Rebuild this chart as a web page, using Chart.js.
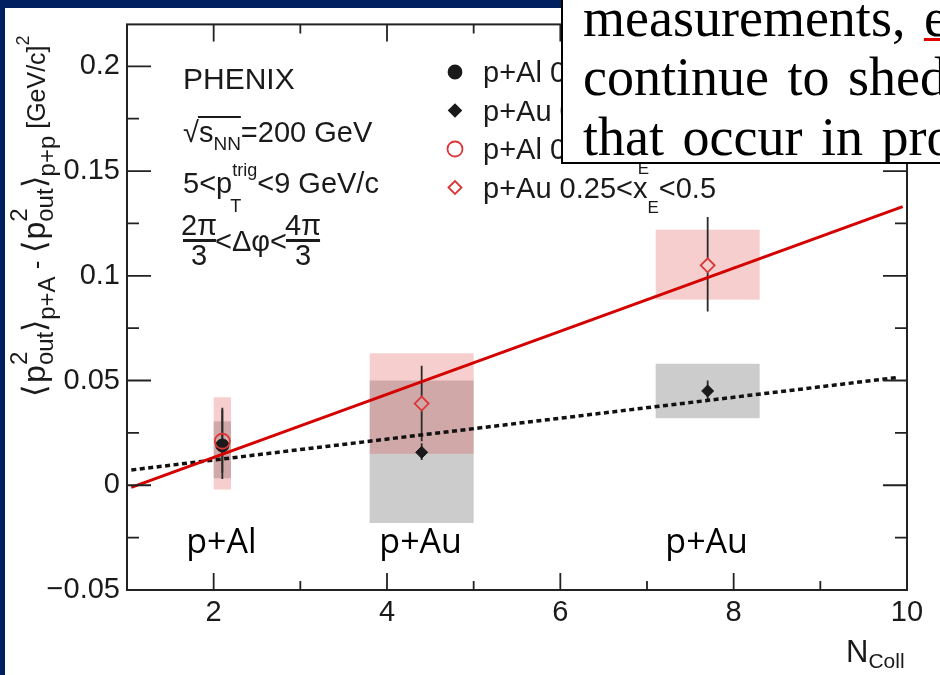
<!DOCTYPE html>
<html>
<head>
<meta charset="utf-8">
<script src="https://cdn.jsdelivr.net/npm/chart.js@4.4.0/dist/chart.umd.min.js"></script>
<style>
  html, body { margin: 0; padding: 0; }
  body { width: 940px; height: 675px; background: #002060; position: relative; overflow: hidden; }
  #paper { position: absolute; left: 5px; top: 8px; right: 0; bottom: 0; background: #fff; }
  #plot { position: absolute; left: 0; top: 0; }
  #note { position: absolute; left: 561px; top: -10px; width: 400px; height: 170px; border: 2px solid #000;
          background: #fff; overflow: hidden; font-family: "Liberation Serif", "Times New Roman", serif;
          font-size: 54px; word-spacing: 5px; color: #000; }
  #note div { position: absolute; left: 20px; line-height: 54px; white-space: nowrap; }
  .spell { text-decoration: underline; text-decoration-color: #e00000; text-decoration-thickness: 3px; }
</style>
</head>
<body>
<div id="paper"></div>
<canvas id="plot" width="940" height="675"></canvas>
<div id="note">
  <div style="top:-1px">measurements, <span class="spell">e.g.</span></div>
  <div style="top:58px">continue to shed light</div>
  <div style="top:118px">that occur in proton</div>
</div>
<script>
const FONT = '"Liberation Sans", Arial, Helvetica, sans-serif';

// axes
const xMajorTicks = [2, 4, 6, 8, 10];
const xMinorTicks = [3, 5, 7, 9];
const xTickLabels = ['2', '4', '6', '8', '10'];
const yMajorTicks = [-0.05, 0, 0.05, 0.1, 0.15, 0.2];
const yMinorTicks = [-0.025, 0.025, 0.075, 0.125, 0.175];
const yTickLabels = ['\u22120.05', '0', '0.05', '0.1', '0.15', '0.2'];

// collision systems (N_coll)
const systems = ['p+Al', 'p+Au', 'p+Au'];
const systemX = [2.1, 4.4, 7.7];
const alX = [2.1];
const auX = [4.4, 7.7];

// black: 0.5<xE<0.8, red: 0.25<xE<0.5
const alBlackY = [0.019];
const alBlackStat = [[0.003, 0.037]];
const alBlackSys = [[0.0033, 0.0305]];
const auBlackY = [0.0157, 0.045];
const auBlackStat = [[0.012, 0.020], [0.0405, 0.050]];
const auBlackSys = [[-0.018, 0.050], [0.032, 0.058]];

const alRedY = [0.021];
const alRedStat = [[0.006, 0.036]];
const alRedSys = [[-0.002, 0.042]];
const auRedY = [0.039, 0.105];
const auRedStat = [[0.021, 0.057], [0.083, 0.128]];
const auRedSys = [[0.015, 0.063], [0.0886, 0.122]];

// linear fits
const redFitX = [1.05, 9.95];
const redFitY = [-0.001, 0.133];
const blackFitX = [1.05, 9.9];
const blackFitY = [0.0073, 0.0515];

const legendLabels = ['p+Al 0.5<x_E<0.8', 'p+Au 0.5<x_E<0.8', 'p+Al 0.25<x_E<0.5', 'p+Au 0.25<x_E<0.5'];

const RED = '#d40000';
const MRED = '#dd3535';
const INK = '#1a1a1a';

const pts = (xs, ys) => xs.map((v, i) => ({ x: v, y: ys[i] }));

function text(ctx, s, x, y, size, align) {
    ctx.font = size + 'px ' + FONT;
    ctx.textAlign = align || 'left';
    ctx.fillText(s, x, y);
    return ctx.measureText(s).width;
}

function boxes(ctx, x, y, xs, sys, half, color) {
    ctx.fillStyle = color;
    xs.forEach((v, i) => {
        const l = x.getPixelForValue(v - half), r = x.getPixelForValue(v + half);
        const t = y.getPixelForValue(sys[i][1]), b = y.getPixelForValue(sys[i][0]);
        ctx.fillRect(l, t, r - l, b - t);
    });
}

function errBars(ctx, x, y, xs, ys, stat, gap) {
    ctx.strokeStyle = '#2a2a2a';
    ctx.lineWidth = 1.8;
    xs.forEach((v, i) => {
        const px = x.getPixelForValue(v), py = y.getPixelForValue(ys[i]);
        const t = y.getPixelForValue(stat[i][1]), b = y.getPixelForValue(stat[i][0]);
        ctx.beginPath();
        if (t < py - gap) { ctx.moveTo(px, t); ctx.lineTo(px, py - gap); }
        if (b > py + gap) { ctx.moveTo(px, py + gap); ctx.lineTo(px, b); }
        ctx.stroke();
    });
}

// rotated y title; each piece: [text, size, baseline offset, advance?]
function yTitle(ctx) {
    const B = 32, S = 24, U = 25;
    const parts = [
        ['\u27E8', B, 0], [' ', 6, 0], ['p', B, 0], ['2', S, -18, false], ['out', S, 8], ['\u27E9', B, 0], ['p+A', S, 10],
        [' - ', 26, 0],
        ['\u27E8', B, 0], [' ', 6, 0], ['p', B, 0], ['2', S, -18, false], ['out', S, 8], ['\u27E9', B, 0], ['p+p', S, 10],
        [' [GeV/c]', U, 0], ['2', 18, -16]
    ];
    const adv = p => {
        ctx.font = p[1] + 'px ' + FONT;
        return p[3] === false ? 0 : ctx.measureText(p[0]).width;
    };
    const total = parts.reduce((a, p) => a + adv(p), 0);
    ctx.save();
    ctx.translate(45, 216 + total / 2);
    ctx.rotate(-Math.PI / 2);
    ctx.textAlign = 'left';
    ctx.textBaseline = 'alphabetic';
    let pos = 0;
    parts.forEach(p => {
        const w = adv(p);
        ctx.fillText(p[0], pos, p[2]);
        pos += w;
    });
    ctx.restore();
}

function annotations(ctx) {
    ctx.fillStyle = INK;
    ctx.textBaseline = 'alphabetic';
    text(ctx, 'PHENIX', 183, 89, 30);

    // sqrt(s_NN)=200 GeV
    let x = 183;
    x += text(ctx, '\u221A', x, 142, 29);
    const o0 = x;
    x += text(ctx, 's', x, 142, 29);
    x += text(ctx, 'NN', x, 150, 19);
    ctx.fillRect(o0 - 1, 116, x - o0 + 1, 2);
    text(ctx, '=200 GeV', x, 142, 29);

    // 5<pT^trig<9 GeV/c
    x = 183;
    x += text(ctx, '5<p', x, 193, 29);
    const w1 = text(ctx, 'trig', x, 176, 18);
    text(ctx, 'T', x - 2, 212, 18);
    x += w1;
    text(ctx, '<9 GeV/c', x, 193, 29);

    // 2pi/3 < dphi < 4pi/3
    text(ctx, '2\u03C0', 199, 235, 29, 'center');
    ctx.fillRect(183, 239, 33, 3);
    text(ctx, '3', 199, 265, 29, 'center');
    const w2 = text(ctx, '<\u0394\u03C6<', 215, 251, 29);
    const fx = 215 + w2;
    text(ctx, '4\u03C0', fx + 16, 235, 29, 'center');
    ctx.fillRect(fx - 1, 239, 34, 3);
    text(ctx, '3', fx + 16, 265, 29, 'center');
}

function legend(ctx) {
    const styles = [
        { pointStyle: 'circle', radius: 6.5, fill: INK, stroke: INK },
        { pointStyle: 'rectRot', radius: 6, fill: INK, stroke: INK },
        { pointStyle: 'circle', radius: 7.5, fill: 'rgba(0,0,0,0)', stroke: MRED },
        { pointStyle: 'rectRot', radius: 6.5, fill: 'rgba(0,0,0,0)', stroke: MRED }
    ];
    legendLabels.forEach((lab, i) => {
        const cy = 72 + i * 38.5;
        const st = styles[i];
        ctx.fillStyle = st.fill;
        ctx.strokeStyle = st.stroke;
        Chart.helpers.drawPoint(ctx, { pointStyle: st.pointStyle, radius: st.radius, rotation: 0, borderWidth: 1.6 }, 455, cy);
        ctx.fillStyle = INK;
        const [a, b] = lab.split('_E');
        let x = 483;
        x += text(ctx, a, x, cy + 10, 29);
        const we = text(ctx, 'E', x, cy + 25, 17);
        text(ctx, b, x + we, cy + 10, 29);
    });
}

const decor = {
    id: 'decor',
    beforeDatasetsDraw(chart) {
        const { ctx, scales: { x, y } } = chart;
        ctx.save();
        boxes(ctx, x, y, alX, alBlackSys, 0.1, 'rgba(0,0,0,0.2)');
        boxes(ctx, x, y, auX, auBlackSys, 0.6, 'rgba(0,0,0,0.2)');
        boxes(ctx, x, y, alX, alRedSys, 0.1, 'rgba(220,60,60,0.25)');
        boxes(ctx, x, y, auX, auRedSys, 0.6, 'rgba(220,60,60,0.25)');
        errBars(ctx, x, y, alX, alBlackY, alBlackStat, 0);
        errBars(ctx, x, y, auX, auBlackY, auBlackStat, 0);
        errBars(ctx, x, y, alX, alRedY, alRedStat, 0);
        errBars(ctx, x, y, auX, auRedY, auRedStat, 7);
        ctx.restore();
    },
    afterDraw(chart) {
        const { ctx, chartArea: a, scales: { x, y } } = chart;
        ctx.save();
        ctx.strokeStyle = '#222';
        ctx.lineWidth = 2;
        ctx.strokeRect(a.left, a.top, a.right - a.left, a.bottom - a.top);
        ctx.lineWidth = 1.8;
        ctx.beginPath();
        const yt = (v, len) => {
            const py = y.getPixelForValue(v);
            ctx.moveTo(a.left, py); ctx.lineTo(a.left + len, py);
            ctx.moveTo(a.right, py); ctx.lineTo(a.right - len, py);
        };
        const xt = (v, len) => {
            const px = x.getPixelForValue(v);
            ctx.moveTo(px, a.bottom); ctx.lineTo(px, a.bottom - len);
            ctx.moveTo(px, a.top); ctx.lineTo(px, a.top + len);
        };
        yMajorTicks.forEach(v => yt(v, 24));
        yMinorTicks.forEach(v => yt(v, 12));
        xMajorTicks.filter(v => v < 10).forEach(v => xt(v, 17));
        xMinorTicks.forEach(v => xt(v, 9));
        ctx.stroke();

        // system labels
        ctx.fillStyle = '#000';
        ctx.textBaseline = 'alphabetic';
        ctx.textAlign = 'center';
        ctx.font = '34px "Open Sans", "Noto Sans", sans-serif';
        systems.forEach((s, i) => ctx.fillText(s, x.getPixelForValue(systemX[i]) - 1, y.getPixelForValue(-0.0325)));

        // x title
        ctx.fillStyle = INK;
        ctx.textAlign = 'left';
        let tx = 846;
        tx += text(ctx, 'N', tx, 662, 31);
        text(ctx, 'Coll', tx, 668, 21);

        yTitle(ctx);
        annotations(ctx);
        legend(ctx);
        ctx.restore();
    }
};

new Chart(document.getElementById('plot'), {
    type: 'scatter',
    data: {
        datasets: [
            { label: 'red fit', type: 'line', data: pts(redFitX, redFitY), borderColor: RED, borderWidth: 3,
              pointRadius: 0, fill: false, order: 3 },
            { label: 'black fit', type: 'line', data: pts(blackFitX, blackFitY), borderColor: '#111', borderWidth: 3.5,
              borderDash: [5, 3.5], pointRadius: 0, fill: false, order: 4 },
            { label: 'p+Al 0.5<xE<0.8', data: pts(alX, alBlackY), pointStyle: 'circle', pointRadius: 6.5,
              backgroundColor: INK, borderColor: INK, borderWidth: 1, order: 1 },
            { label: 'p+Au 0.5<xE<0.8', data: pts(auX, auBlackY), pointStyle: 'rectRot', pointRadius: 6,
              backgroundColor: INK, borderColor: INK, borderWidth: 1, order: 1 },
            { label: 'p+Al 0.25<xE<0.5', data: pts(alX, alRedY), pointStyle: 'circle', pointRadius: 7.5,
              backgroundColor: 'rgba(0,0,0,0)', borderColor: MRED, borderWidth: 1.8, order: 0 },
            { label: 'p+Au 0.25<xE<0.5', data: pts(auX, auRedY), pointStyle: 'rectRot', pointRadius: 7,
              backgroundColor: 'rgba(0,0,0,0)', borderColor: MRED, borderWidth: 1.8, order: 0 }
        ]
    },
    options: {
        responsive: false,
        animation: false,
        events: [],
        layout: { padding: { left: 0, top: 22, right: 33, bottom: 0 } },
        plugins: { legend: { display: false }, tooltip: { enabled: false } },
        scales: {
            x: {
                type: 'linear', min: 1, max: 10,
                afterBuildTicks: s => { s.ticks = xMajorTicks.map(v => ({ value: v })); },
                afterFit: s => { s.height = 85; },
                grid: { display: false, drawTicks: false },
                border: { display: false },
                ticks: { color: INK, font: { family: FONT, size: 29 }, padding: 6, maxRotation: 0, autoSkip: false,
                         callback: (v, i) => xTickLabels[i] }
            },
            y: {
                type: 'linear', min: -0.05, max: 0.22,
                afterBuildTicks: s => { s.ticks = yMajorTicks.map(v => ({ value: v })); },
                afterFit: s => { s.width = 127; },
                grid: { display: false, drawTicks: false },
                border: { display: false },
                ticks: { color: INK, font: { family: FONT, size: 29 }, padding: 7, autoSkip: false,
                         callback: (v, i) => yTickLabels[i] }
            }
        }
    },
    plugins: [decor]
});
</script>
</body>
</html>
